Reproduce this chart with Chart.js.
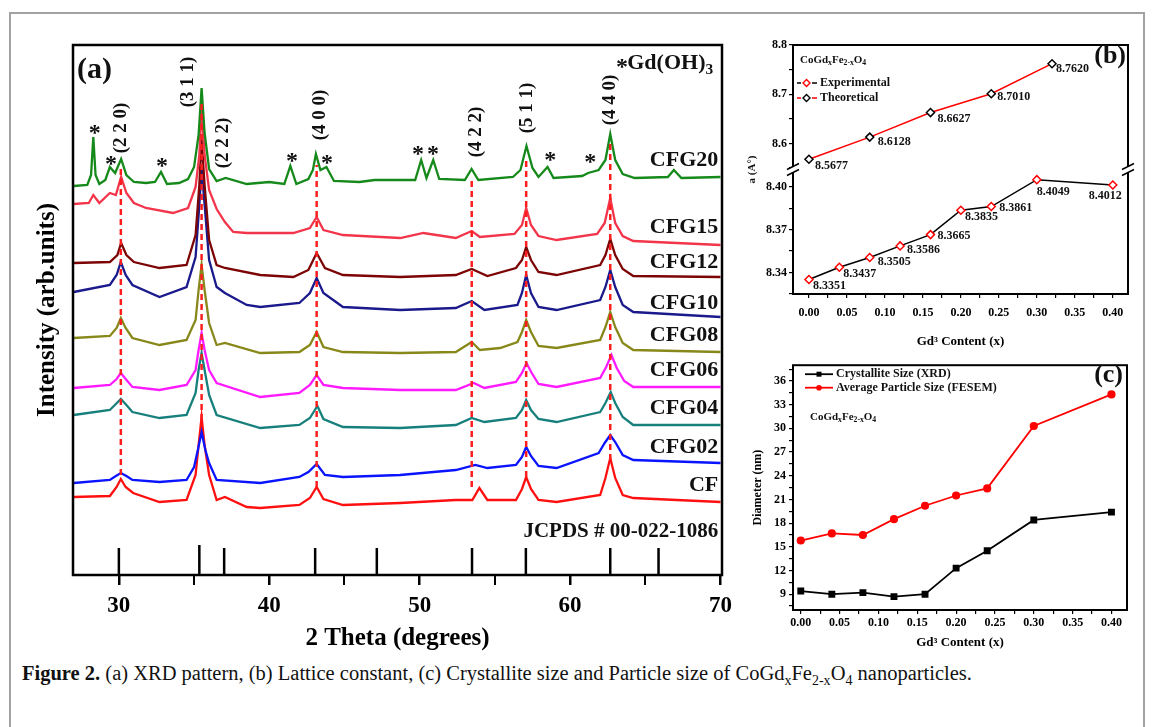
<!DOCTYPE html>
<html>
<head>
<meta charset="utf-8">
<script src="https://cdn.jsdelivr.net/npm/chart.js@4.4.1/dist/chart.umd.min.js"></script>
<style>
html, body { margin: 0; padding: 0; background: #fff; }
#fig { position: relative; width: 1153px; height: 727px; overflow: hidden; font-family: "Liberation Serif", serif; }
#border { position: absolute; left: 9px; top: 12px; width: 1136px; height: 800px; border: 2px solid #a2a2a2; box-sizing: border-box; }
canvas { position: absolute; }
#cap { position: absolute; left: 22px; top: 661px; font-size: 20.5px; color: #111; white-space: nowrap; line-height: 24px; }
#cap sub { font-size: 14px; line-height: 0; }
</style>
</head>
<body>
<div id="fig">
  <div id="border"></div>
  <canvas id="xrd" width="720" height="620" style="left:20px;top:40px"></canvas>
  <canvas id="lat" width="400" height="320" style="left:740px;top:35px"></canvas>
  <canvas id="size" width="400" height="300" style="left:740px;top:355px"></canvas>
  <div id="cap"><b>Figure 2.</b> (a) XRD pattern, (b) Lattice constant, (c) Crystallite size and Particle size of CoGd<sub>x</sub>Fe<sub>2-x</sub>O<sub>4</sub> nanoparticles.</div>
</div>
<script>
'use strict';
// ---------- (a) XRD data : [2theta, intensity] ----------
const sampleNames = ['CFG20', 'CFG15', 'CFG12', 'CFG10', 'CFG08', 'CFG06', 'CFG04', 'CFG02', 'CF'];

const cfg20 = [[27.0,389],[27.9,390],[28.15,400],[28.3,438],[28.45,400],[28.7,391],[29.1,395],[29.4,408],[29.75,402],[30.15,416],[30.5,400],[31.0,393],[31.8,392],[32.4,393],[32.8,403],[33.2,391],[34.0,392],[34.6,396],[35.0,408],[35.3,440],[35.5,487],[35.7,442],[36.0,406],[36.5,394],[37.1,397],[38.5,391],[40.0,393],[41.0,391],[41.4,409],[41.8,391],[42.6,396],[42.9,405],[43.1,421],[43.4,405],[43.8,408],[44.3,394],[46.0,393],[47.0,395],[49.7,395],[50.1,415],[50.45,397],[50.9,415],[51.3,396],[53.0,395],[53.45,406],[53.9,395],[56.2,398],[56.7,405],[57.1,429],[57.5,407],[57.9,398],[58.5,408],[58.9,397],[60.8,399],[61.2,402],[61.9,405],[62.35,415],[62.67,441],[63.0,415],[63.5,401],[64.3,397],[66.5,398],[66.9,405],[67.4,397],[70.0,398]];
const cfg15 = [[27.0,371],[28.0,372],[28.3,380],[28.7,372],[29.4,382],[29.8,380],[30.15,398],[30.5,382],[31.0,372],[31.8,367],[33.6,362],[34.6,367],[35.1,388],[35.35,420],[35.5,467],[35.7,420],[36.0,385],[36.5,366],[37.05,353],[37.6,343],[38.5,342],[41.6,342],[42.7,347],[43.15,358],[43.6,345],[44.9,340],[48.7,337],[50.25,342],[52.4,337],[53.46,344],[54.0,338],[56.3,341],[56.8,350],[57.08,367],[57.4,350],[57.9,339],[59.1,335],[61.8,341],[62.3,352],[62.67,377],[63.0,352],[63.5,339],[64.2,334],[70.0,330]];
const cfg12 = [[27.0,312],[29.4,313],[29.9,320],[30.15,332],[30.5,320],[31.0,313],[32.7,307],[34.5,310],[35.1,340],[35.35,390],[35.5,435],[35.7,390],[36.0,335],[36.5,310],[37.05,307],[39.4,300],[41.6,298],[42.6,305],[43.15,322],[43.7,307],[44.9,300],[48.7,298],[52.4,300],[53.46,306],[54.5,299],[56.4,307],[56.8,315],[57.08,328],[57.4,315],[57.9,303],[59.1,300],[62.0,310],[62.35,320],[62.67,336],[63.0,320],[63.5,306],[64.2,299],[70.0,298]];
const cfg10 = [[27.0,283],[29.4,290],[29.85,300],[30.13,313],[30.45,300],[30.9,290],[32.7,278],[34.5,288],[35.1,318],[35.35,370],[35.5,407],[35.7,370],[36.0,315],[36.5,288],[37.05,282],[38.5,270],[39.4,268],[42.0,272],[42.7,282],[43.15,297],[43.6,282],[44.9,268],[48.7,265],[52.4,267],[53.46,274],[54.3,265],[56.5,270],[56.8,282],[57.08,300],[57.4,282],[57.9,268],[59.1,265],[62.0,275],[62.35,288],[62.67,305],[63.0,288],[63.5,270],[64.2,263],[70.0,258]];
const cfg08 = [[27.0,237],[29.4,239],[29.85,247],[30.13,257],[30.45,247],[30.9,237],[32.7,230],[34.5,235],[35.1,255],[35.3,285],[35.5,310],[35.7,285],[36.0,252],[36.5,230],[37.05,232],[39.4,222],[42.0,223],[42.7,230],[43.15,243],[43.6,228],[44.9,223],[48.7,222],[52.4,223],[53.46,233],[54.0,225],[55.35,227],[56.5,233],[56.8,243],[57.08,255],[57.4,243],[57.9,229],[59.1,227],[62.0,235],[62.35,248],[62.67,263],[63.0,248],[63.5,232],[64.2,225],[70.0,223]];
const cfg06 = [[27.0,187],[29.4,190],[29.85,196],[30.13,202],[30.45,196],[30.9,188],[32.7,185],[34.5,190],[35.1,205],[35.3,225],[35.5,242],[35.7,225],[36.0,205],[36.5,192],[39.4,178],[42.0,182],[42.7,190],[43.15,200],[43.6,190],[44.9,187],[48.7,185],[52.4,185],[53.6,192],[54.3,187],[56.4,193],[56.8,202],[57.1,212],[57.45,202],[57.9,191],[59.1,188],[62.0,197],[62.4,208],[62.75,220],[63.1,207],[63.6,194],[64.2,188],[70.0,188]];
const cfg04 = [[27.0,160],[29.4,165],[29.8,171],[30.13,176],[30.5,170],[30.9,163],[32.7,157],[34.5,160],[35.1,182],[35.3,205],[35.5,222],[35.7,205],[36.0,180],[36.5,160],[39.4,147],[42.0,150],[42.7,157],[43.2,169],[43.6,156],[44.9,148],[48.7,147],[52.4,150],[53.46,157],[54.3,153],[56.4,157],[56.8,165],[57.08,175],[57.4,165],[57.9,156],[59.1,153],[62.0,163],[62.35,172],[62.7,183],[63.0,172],[63.5,158],[64.2,150],[70.0,150]];
const cfg02 = [[27.0,92],[29.4,95],[29.8,99],[30.13,102],[30.5,99],[30.9,95],[32.7,93],[34.5,95],[35.0,108],[35.25,125],[35.5,143],[35.75,125],[36.0,112],[36.5,95],[39.4,92],[42.0,98],[42.6,103],[43.15,111],[43.7,100],[44.9,98],[48.7,100],[52.4,105],[53.7,110],[54.5,107],[56.4,110],[56.8,118],[57.08,128],[57.4,119],[57.9,109],[59.1,107],[61.9,122],[62.3,132],[62.67,140],[63.0,133],[63.5,120],[64.2,115],[70.0,112]];
const cf = [[27.0,78],[29.4,79],[29.85,88],[30.13,96],[30.45,88],[30.95,82],[32.7,73],[34.5,75],[35.1,100],[35.3,130],[35.5,158],[35.7,130],[36.0,100],[36.5,75],[37.05,78],[38.5,68],[39.4,67],[42.0,70],[42.7,77],[43.15,88],[43.6,76],[44.9,70],[48.7,72],[52.4,75],[53.5,75],[53.97,87],[54.5,75],[56.4,75],[56.8,86],[57.08,98],[57.4,86],[57.9,75],[59.1,73],[62.0,80],[62.35,97],[62.67,117],[63.0,97],[63.5,80],[64.2,77],[70.0,73]];
const patterns = [cfg20, cfg15, cfg12, cfg10, cfg08, cfg06, cfg04, cfg02, cf];

// spinel reflections marked with dashed lines
const dashTheta = [30.13, 35.5, 43.15, 53.46, 57.08, 62.67];
const dashTop = [410, 475, 410, 398, 418, 435];
const dashBottom = [100, 155, 88, 88, 98, 115];

// JCPDS # 00-022-1086 reference sticks
const jcpdsTheta = [30.0, 35.35, 37.0, 43.05, 47.15, 53.48, 57.06, 62.67, 65.88];
const jcpdsHeight = [27, 30, 27, 27, 27, 27, 27, 27, 27];

// hkl labels and Gd(OH)3 asterisks
const hklText = ['(2 2 0)', '(3 1 1)', '(2 2 2)', '(4 0 0)', '(4 2 2)', '(5 1 1)', '(4 4 0)'];
const hklAt = [[30.13, 447], [34.6, 493], [36.92, 432], [43.37, 460], [53.75, 443], [57.15, 467], [62.67, 475]];
const starAt = [[28.4, 446], [29.47, 415], [32.86, 413], [41.51, 418], [43.84, 416], [49.89, 425], [50.89, 425], [58.68, 419], [61.34, 417]];
const sampleLabelY = [415, 348, 313, 272, 240, 205, 167, 128, 90];

// ---------- (b) lattice constant ----------
const gdContent = [0.00, 0.04, 0.08, 0.12, 0.16, 0.20, 0.24, 0.30, 0.40];
const latExperimental = [8.3351, 8.3437, 8.3505, 8.3586, 8.3665, 8.3835, 8.3861, 8.4049, 8.4012];
const gdTheoretical = [0.00, 0.08, 0.16, 0.24, 0.32];
const latTheoretical = [8.5677, 8.6128, 8.6627, 8.7010, 8.7620];

// ---------- (c) sizes ----------
const crystalliteSize = [9.4, 9.0, 9.2, 8.7, 9.0, 12.3, 14.5, 18.4, 19.4];
const particleSize = [15.8, 16.7, 16.5, 18.5, 20.2, 21.5, 22.4, 30.3, 34.3];

// styles
const sampleColors = ['#15891a', '#f2354a', '#7c0404', '#1a1a8c', '#88881a', '#ff1aff', '#17807c', '#0a14ff', '#ff1010'];
const SERIF = '"Liberation Serif", serif';
// label offsets (px) for the lattice values
const expLabelOff = [[4, 6], [4, 7], [8, 4], [7, 4], [7, 1], [4, 7], [8, 1], [0, 12], [-24, 11]];
const theoLabelOff = [[6, 7], [8, 5], [7, 6], [6, 3], [4, 5]];

Chart.defaults.font.family = SERIF;
Chart.defaults.color = '#000';

function fnt(size, bold) { return (bold ? 'bold ' : '') + size + 'px ' + SERIF; }

// text with sub/superscripts: parts = [[text, mode]]
function richText(ctx, parts, x, y, size) {
  let cx = x;
  parts.forEach(([t, mode]) => {
    if (mode === 'sub') {
      ctx.font = fnt(size * 0.7, true);
      ctx.fillText(t, cx, y + size * 0.3);
    } else if (mode === 'sup') {
      ctx.font = fnt(size * 0.7, true);
      ctx.fillText(t, cx, y - size * 0.35);
    } else {
      ctx.font = fnt(size, true);
      ctx.fillText(t, cx, y);
    }
    cx += ctx.measureText(t).width;
  });
}
const formula = [['CoGd', ''], ['x', 'sub'], ['Fe', ''], ['2-x', 'sub'], ['O', ''], ['4', 'sub']];

// ---------- chart (a) ----------
const xrdDecor = {
  id: 'xrdDecor',
  afterDatasetsDraw(chart) {
    const {ctx, chartArea: a, scales: {x, y}} = chart;
    ctx.save();
    ctx.strokeStyle = '#000';
    ctx.lineWidth = 2.5;
    ctx.strokeRect(a.left, a.top, a.right - a.left, a.bottom - a.top);
    ctx.fillStyle = '#111';
    ctx.textBaseline = 'middle';
    // hkl labels
    ctx.font = fnt(19, true);
    ctx.textAlign = 'center';
    hklText.forEach((t, i) => {
      ctx.save();
      ctx.translate(x.getPixelForValue(hklAt[i][0]), y.getPixelForValue(hklAt[i][1]));
      ctx.rotate(-Math.PI / 2);
      ctx.fillText(t, 0, 0);
      ctx.restore();
    });
    // asterisks
    ctx.font = fnt(24, true);
    starAt.forEach(([t, v]) => ctx.fillText('*', x.getPixelForValue(t), y.getPixelForValue(v) + 5));
    // sample names
    ctx.font = fnt(22, true);
    ctx.textAlign = 'right';
    sampleNames.forEach((n, i) => ctx.fillText(n, x.getPixelForValue(69.85), y.getPixelForValue(sampleLabelY[i])));
    ctx.font = fnt(21, true);
    ctx.fillText('JCPDS # 00-022-1086', x.getPixelForValue(69.85), y.getPixelForValue(43));
    // panel tag
    ctx.textAlign = 'left';
    ctx.font = fnt(30, true);
    ctx.fillText('(a)', a.left + 4, a.top + 25);
    // Gd(OH)3 key
    ctx.font = fnt(24, true);
    ctx.fillText('*', x.getPixelForValue(63.05), y.getPixelForValue(512) + 5);
    richText(ctx, [['Gd(OH)', ''], ['3', 'sub']], x.getPixelForValue(63.8), y.getPixelForValue(512), 22);
    ctx.restore();
  }
};

const xrdSets = [];
dashTheta.forEach((t, i) => xrdSets.push({
  data: [{x: t, y: dashBottom[i]}, {x: t, y: dashTop[i]}],
  borderColor: '#ff1e1e', borderWidth: 2.5, borderDash: [6, 4]
}));
const stickPts = [];
jcpdsTheta.forEach((t, i) => { stickPts.push({x: t, y: 0}, {x: t, y: jcpdsHeight[i]}, {x: t, y: null}); });
xrdSets.push({data: stickPts, borderColor: '#000', borderWidth: 2.5, spanGaps: false});
patterns.forEach((p, i) => xrdSets.push({
  label: sampleNames[i],
  data: p.map(([t, v]) => ({x: t, y: v})),
  borderColor: sampleColors[i], borderWidth: 2.3
}));

new Chart(document.getElementById('xrd'), {
  type: 'scatter',
  data: {datasets: xrdSets},
  options: {
    animation: false, responsive: false, devicePixelRatio: 1,
    showLine: true,
    layout: {padding: {top: 5, right: 18, left: 0, bottom: 0}},
    elements: {point: {radius: 0, hoverRadius: 0}, line: {tension: 0, fill: false}},
    plugins: {legend: {display: false}, tooltip: {enabled: false}},
    scales: {
      x: {
        type: 'linear', min: 26.95, max: 70.1,
        afterFit: s => { s.height = 85; },
        border: {display: false},
        grid: {drawOnChartArea: false, drawTicks: true, tickLength: 10, color: '#000',
               lineWidth: c => (c.tick && c.tick.value % 10 === 0 ? 2.5 : 2)},
        ticks: {stepSize: 5, includeBounds: false, autoSkip: false, maxRotation: 0, padding: 7,
                font: {size: 23, weight: 'bold'},
                callback: v => (v % 10 === 0 ? String(v) : '')},
        title: {display: true, text: '2 Theta (degrees)', font: {size: 25, weight: 'bold'}, padding: {top: 0, bottom: 6}}
      },
      y: {
        min: 0, max: 530,
        afterFit: s => { s.width = 53; },
        border: {display: false},
        grid: {display: false},
        ticks: {display: false},
        title: {display: true, text: 'Intensity (arb.units)', font: {size: 25, weight: 'bold'}, padding: {top: 13, bottom: 0}}
      }
    }
  },
  plugins: [xrdDecor]
});

// ---------- chart (b) ----------
const latDecor = {
  id: 'latDecor',
  afterDatasetsDraw(chart) {
    const {ctx, chartArea: a, scales} = chart;
    const x = scales.x, yT = scales.yTop, yB = scales.yBot;
    ctx.save();
    ctx.strokeStyle = '#000';
    ctx.lineWidth = 2;
    ctx.strokeRect(a.left, a.top, a.right - a.left, a.bottom - a.top);
    // axis break
    const by = Math.max(yT.top, yB.top);
    [a.left, a.right].forEach(sx => {
      ctx.fillStyle = '#fff';
      ctx.fillRect(sx - 3, by - 3, 6, 6);
      ctx.beginPath();
      [-3, 3].forEach(d => { ctx.moveTo(sx - 6, by + d + 3); ctx.lineTo(sx + 6, by + d - 3); });
      ctx.lineWidth = 1.5;
      ctx.stroke();
    });
    ctx.fillStyle = '#111';
    ctx.textBaseline = 'middle';
    ctx.textAlign = 'left';
    // value labels
    ctx.font = fnt(12, true);
    gdTheoretical.forEach((g, i) => ctx.fillText(latTheoretical[i].toFixed(4),
      x.getPixelForValue(g) + theoLabelOff[i][0], yT.getPixelForValue(latTheoretical[i]) + theoLabelOff[i][1]));
    gdContent.forEach((g, i) => ctx.fillText(latExperimental[i].toFixed(4),
      x.getPixelForValue(g) + expLabelOff[i][0], yB.getPixelForValue(latExperimental[i]) + expLabelOff[i][1]));
    // formula and legend
    richText(ctx, formula, a.left + 7, a.top + 15, 11);
    const rows = [['Experimental', '#000', '#ff0000'], ['Theoretical', '#ff0000', '#000']];
    rows.forEach(([t, lc, mc], i) => {
      const ry = a.top + 38 + i * 15;
      ctx.strokeStyle = lc; ctx.lineWidth = 1.5;
      ctx.beginPath();
      ctx.moveTo(a.left + 4, ry); ctx.lineTo(a.left + 8, ry);
      ctx.moveTo(a.left + 19, ry); ctx.lineTo(a.left + 24, ry);
      ctx.stroke();
      ctx.strokeStyle = mc; ctx.fillStyle = '#fff'; ctx.lineWidth = 1.4;
      ctx.beginPath();
      const cx = a.left + 13.5;
      ctx.moveTo(cx, ry - 3.5); ctx.lineTo(cx + 3.5, ry); ctx.lineTo(cx, ry + 3.5); ctx.lineTo(cx - 3.5, ry); ctx.closePath();
      ctx.fill(); ctx.stroke();
      ctx.fillStyle = '#111';
      ctx.font = fnt(12, true);
      ctx.fillText(t, a.left + 27, ry);
    });
    ctx.font = fnt(26, true);
    ctx.textAlign = 'right';
    ctx.fillText('(b)', a.right - 2, a.top + 11);
    // y title across both segments
    ctx.save();
    ctx.translate(12, (a.top + a.bottom) / 2);
    ctx.rotate(-Math.PI / 2);
    ctx.textAlign = 'center';
    ctx.font = fnt(11, true);
    ctx.fillText('a (A\u00b0)', 0, 0);
    ctx.restore();
    ctx.restore();
  }
};

const tickW = 1.2;
new Chart(document.getElementById('lat'), {
  type: 'scatter',
  data: {datasets: [
    {label: 'Experimental', yAxisID: 'yBot',
     data: gdContent.map((g, i) => ({x: g, y: latExperimental[i]})),
     borderColor: '#000', borderWidth: 1.5, pointStyle: 'rectRot', pointRadius: 4,
     pointBorderColor: '#ff0000', pointBackgroundColor: '#fff', pointBorderWidth: 1.5},
    {label: 'Theoretical', yAxisID: 'yTop',
     data: gdTheoretical.map((g, i) => ({x: g, y: latTheoretical[i]})),
     borderColor: '#ff0000', borderWidth: 1.5, pointStyle: 'rectRot', pointRadius: 4,
     pointBorderColor: '#000', pointBackgroundColor: '#fff', pointBorderWidth: 1.5}
  ]},
  options: {
    animation: false, responsive: false, devicePixelRatio: 1,
    showLine: true,
    layout: {padding: {top: 10, right: 12, left: 0, bottom: 0}},
    plugins: {legend: {display: false}, tooltip: {enabled: false}},
    scales: {
      x: {
        type: 'linear', min: -0.021, max: 0.42,
        afterFit: s => { s.height = 61; },
        border: {display: false},
        grid: {drawOnChartArea: false, tickLength: 4, color: '#000', lineWidth: tickW},
        ticks: {stepSize: 0.025, includeBounds: false, autoSkip: false, maxRotation: 0, padding: 8,
                font: {size: 12, weight: 'bold'},
                callback: v => (Math.round(v * 1000) % 50 === 0 ? Math.abs(v).toFixed(2) : '')},
        title: {display: true, text: 'Gd\u00b3 Content (x)', font: {size: 13, weight: 'bold'}, padding: {top: 0, bottom: 6}}
      },
      yBot: {
        type: 'linear', position: 'left', stack: 'lat', stackWeight: 1, min: 8.325, max: 8.412,
        afterFit: s => { s.width = 53; },
        border: {display: false},
        grid: {drawOnChartArea: false, tickLength: 4, color: '#000', lineWidth: tickW},
        ticks: {stepSize: 0.015, includeBounds: false, autoSkip: false, padding: 2, font: {size: 12, weight: 'bold'},
                callback: v => (Math.round(v * 1000) % 30 === 0 ? v.toFixed(2) : '')}
      },
      yTop: {
        type: 'linear', position: 'left', stack: 'lat', stackWeight: 1, min: 8.547, max: 8.8,
        afterFit: s => { s.width = 53; },
        border: {display: false},
        grid: {drawOnChartArea: false, tickLength: 4, color: '#000', lineWidth: tickW},
        ticks: {stepSize: 0.05, includeBounds: false, autoSkip: false, padding: 2, font: {size: 12, weight: 'bold'},
                callback: v => (Math.round(v * 100) % 10 === 0 ? v.toFixed(1) : '')}
      }
    }
  },
  plugins: [latDecor]
});

// ---------- chart (c) ----------
const sizeDecor = {
  id: 'sizeDecor',
  afterDatasetsDraw(chart) {
    const {ctx, chartArea: a} = chart;
    ctx.save();
    ctx.strokeStyle = '#000';
    ctx.lineWidth = 2;
    ctx.strokeRect(a.left, a.top, a.right - a.left, a.bottom - a.top);
    ctx.textBaseline = 'middle';
    ctx.textAlign = 'left';
    chart.data.datasets.forEach((ds, i) => {
      const ry = a.top + 9 + i * 13.5;
      ctx.strokeStyle = ds.borderColor; ctx.lineWidth = 1.8;
      ctx.beginPath(); ctx.moveTo(a.left + 12, ry); ctx.lineTo(a.left + 40, ry); ctx.stroke();
      ctx.fillStyle = ds.borderColor;
      ctx.beginPath();
      if (ds.pointStyle === 'rect') ctx.rect(a.left + 23.5, ry - 2.5, 5, 5);
      else ctx.arc(a.left + 26, ry, 2.8, 0, Math.PI * 2);
      ctx.fill();
      ctx.fillStyle = '#111';
      ctx.font = fnt(12, true);
      ctx.fillText(ds.label, a.left + 43, ry);
    });
    richText(ctx, formula, a.left + 17, a.top + 52, 11);
    ctx.font = fnt(26, true);
    ctx.textAlign = 'right';
    ctx.fillText('(c)', a.right - 4, a.top + 10);
    ctx.restore();
  }
};

new Chart(document.getElementById('size'), {
  type: 'scatter',
  data: {datasets: [
    {label: 'Crystallite Size (XRD)',
     data: gdContent.map((g, i) => ({x: g, y: crystalliteSize[i]})),
     borderColor: '#000', backgroundColor: '#000', borderWidth: 1.8,
     pointStyle: 'rect', pointRadius: 3.6},
    {label: 'Average Particle Size (FESEM)',
     data: gdContent.map((g, i) => ({x: g, y: particleSize[i]})),
     borderColor: '#ff0000', backgroundColor: '#ff0000', borderWidth: 1.8,
     pointStyle: 'circle', pointRadius: 3.2}
  ]},
  options: {
    animation: false, responsive: false, devicePixelRatio: 1,
    showLine: true,
    layout: {padding: {top: 8, right: 13, left: 0, bottom: 0}},
    plugins: {legend: {display: false}, tooltip: {enabled: false}},
    scales: {
      x: {
        type: 'linear', min: -0.01, max: 0.42,
        afterFit: s => { s.height = 45; },
        border: {display: false},
        grid: {drawOnChartArea: false, tickLength: 4, color: '#000', lineWidth: tickW},
        ticks: {stepSize: 0.025, includeBounds: false, autoSkip: false, maxRotation: 0, padding: 2,
                font: {size: 12, weight: 'bold'},
                callback: v => (Math.round(v * 1000) % 50 === 0 ? Math.abs(v).toFixed(2) : '')},
        title: {display: true, text: 'Gd\u00b3 Content (x)', font: {size: 13, weight: 'bold'}, padding: {top: 0, bottom: 5}}
      },
      y: {
        min: 7, max: 38,
        afterFit: s => { s.width = 53; },
        border: {display: false},
        grid: {drawOnChartArea: false, tickLength: 4, color: '#000', lineWidth: tickW},
        ticks: {stepSize: 1.5, includeBounds: false, autoSkip: false, padding: 3, font: {size: 12, weight: 'bold'},
                callback: v => (Math.round(v * 10) % 30 === 0 ? String(Math.round(v)) : '')},
        title: {display: true, text: 'Diameter (nm)', font: {size: 12, weight: 'bold'}, padding: {top: 11, bottom: 0}}
      }
    }
  },
  plugins: [sizeDecor]
});
</script>
</body>
</html>
